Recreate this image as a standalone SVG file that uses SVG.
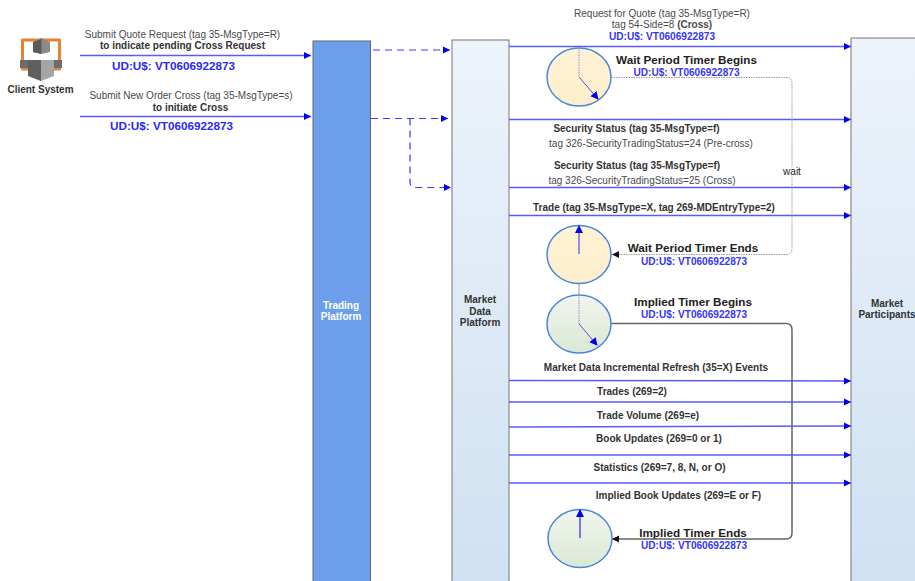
<svg xmlns="http://www.w3.org/2000/svg" width="915" height="581" viewBox="0 0 915 581">
<style>
text{font-family:"Liberation Sans",Arial,sans-serif;text-anchor:middle;fill:#333}
.m{font-size:10px;fill:#4a4a4a}
.b{font-size:10px;font-weight:bold;fill:#333}
.u{font-size:10.100px;font-weight:bold;fill:#3535f5}
.u2{font-size:11.700px;font-weight:bold;fill:#2a2af5}
.t{font-size:11.700px;font-weight:bold;fill:#222}
.a{stroke:#5a5af5;stroke-width:1.500;fill:none;marker-end:url(#ah)}
.d{stroke:#3a3af5;stroke-width:1.200;stroke-dasharray:7 5;fill:none;marker-end:url(#ah)}
.h{stroke:#5050e0;stroke-width:1;fill:none;marker-end:url(#ah2)}
.c{stroke:#4a86d8;stroke-width:1.500}
</style>
<defs>
<marker id="ah" markerUnits="userSpaceOnUse" markerWidth="8" markerHeight="8" refX="7" refY="4" orient="auto"><path d="M0 0.500L7 4L0 7.500Z" fill="#0000f0"/></marker>
<marker id="ah2" markerUnits="userSpaceOnUse" markerWidth="9" markerHeight="9" refX="7" refY="4.500" orient="auto"><path d="M0 0.500L8 4.500L0 8.500Z" fill="#0000f0"/></marker>
<marker id="ak" markerUnits="userSpaceOnUse" markerWidth="8" markerHeight="8" refX="7" refY="4" orient="auto"><path d="M0 0.500L7 4L0 7.500Z" fill="#111"/></marker>
<linearGradient id="bl" x1="0" y1="0" x2="0" y2="1"><stop offset="0" stop-color="#edf3fb"/><stop offset="1" stop-color="#cfe1f2"/></linearGradient>
<linearGradient id="or" x1="0" y1="0" x2="0" y2="1"><stop offset="0" stop-color="#fff3d6"/><stop offset="1" stop-color="#fdeecb"/></linearGradient>
<linearGradient id="gr" x1="0" y1="0" x2="0" y2="1"><stop offset="0" stop-color="#f1f5ee"/><stop offset="1" stop-color="#dae8d4"/></linearGradient>
</defs>

<g id="client-system">
<path d="M22.500 40H59.500V69H22.500Z" fill="#fff" stroke="#e8822f" stroke-width="3" stroke-linejoin="round"/>
<path d="M33 42L41.500 38L50 42V52L41.500 54L33 52Z" fill="#8a8a8a"/>
<path d="M33 42L41.500 39V54L33 52Z" fill="#5a5a5a"/>
<path d="M20 60H29V68H20ZM53 60H62V68H53Z" fill="#6b6b6b"/>
<path d="M28 60H41V81L28 76Z" fill="#5f5f5f"/>
<path d="M54 60H41V81L54 76Z" fill="#a5a5a5"/>
<text x="40.500" y="93" class="b" style="fill:#333">Client System</text>
</g>

<g id="trading-platform">
<rect x="313" y="41" width="57.500" height="545" fill="#6d9eeb" stroke="#666"/>
<text x="341" y="309" style="font-size:10px;font-weight:bold;fill:#fff">Trading</text>
<text x="341" y="320" style="font-size:10px;font-weight:bold;fill:#fff">Platform</text>
</g>

<g id="market-data-platform">
<rect x="452" y="40" width="57" height="546" fill="url(#bl)" stroke="#777"/>
<text x="480" y="303" class="b">Market</text>
<text x="480" y="315" class="b">Data</text>
<text x="480" y="326" class="b">Platform</text>
</g>

<g id="market-participants">
<rect x="851" y="38" width="70" height="548" fill="url(#bl)" stroke="#777"/>
<text x="887" y="307" class="b">Market</text>
<text x="887" y="318" class="b">Participants</text>
</g>

<g id="connectors">
<path class="a" d="M80 55.500H311"/>
<path class="a" d="M80 116.500H311"/>
<path class="d" d="M373 50H450"/>
<path class="d" d="M371 118.500H448"/>
<path class="d" d="M410 118.500V182Q410 187.500 416 187.500H451"/>
<path class="a" d="M509 46.500H851"/>
<path class="a" d="M509 119.500H851"/>
<path class="a" d="M509 187.500H851"/>
<path class="a" d="M509 215.500H851"/>
<path class="a" d="M509 380.500L851 381"/>
<path class="a" d="M509 402H851"/>
<path class="a" d="M509 427L851 426"/>
<path class="a" d="M509 455H851"/>
<path class="a" d="M509 483H851"/>
<path d="M611 77.500H786Q792 77.500 792 83V248Q792 254.500 786 254.500H612" fill="none" stroke="#999" stroke-width="1" stroke-dasharray="1.500 1" marker-end="url(#ak)"/>
<path d="M611 323.500H786Q792 323.500 792 330V533Q792 539 786 539H612" fill="none" stroke="#666" stroke-width="1.500" marker-end="url(#ak)"/>
<path d="M579 284V294" stroke="#999" stroke-width="1" fill="none"/>
</g>

<g id="timer-wait-begins">
<ellipse cx="579" cy="77" rx="32" ry="29" fill="url(#or)" class="c"/>
<path d="M579 47V77" stroke="#9a8ad0" stroke-width="1" stroke-dasharray="1.500 1" fill="none"/>
<path class="h" d="M579 77L598 99"/>
</g>
<g id="timer-wait-ends">
<ellipse cx="579" cy="254.500" rx="32" ry="29" fill="url(#or)" class="c"/>
<path class="h" style="stroke-width:1.200" d="M579 254V226"/>
</g>
<g id="timer-implied-begins">
<ellipse cx="579" cy="324" rx="32" ry="29" fill="url(#gr)" class="c"/>
<path d="M579 295V324" stroke="#9a8ad0" stroke-width="1" stroke-dasharray="1.500 1" fill="none"/>
<path class="h" d="M579 324L597 345"/>
</g>
<g id="timer-implied-ends">
<ellipse cx="580" cy="538.500" rx="32" ry="29" fill="url(#gr)" class="c"/>
<path class="h" style="stroke-width:1.500" d="M580 538V510"/>
</g>

<g id="labels">
<text x="182.500" y="38" class="m">Submit Quote Request (tag 35-MsgType=R)</text>
<text x="182.500" y="49" class="b">to indicate pending Cross Request</text>
<text x="173.500" y="70" class="u2">UD:U$: VT0606922873</text>
<text x="191" y="99" class="m">Submit New Order Cross (tag 35-MsgType=s)</text>
<text x="190.500" y="111" class="b">to initiate Cross</text>
<text x="171.500" y="130" class="u2">UD:U$: VT0606922873</text>
<text x="662" y="17" class="m">Request for Quote (tag 35-MsgType=R)</text>
<text x="662" y="28" class="m">tag 54-Side=8 <tspan font-weight="bold">(Cross)</tspan></text>
<text x="662" y="40" class="u">UD:U$: VT0606922873</text>
<text x="686.500" y="64" class="t">Wait Period Timer Begins</text>
<text x="686.500" y="76" class="u">UD:U$: VT0606922873</text>
<text x="636.500" y="132" class="b">Security Status (tag 35-MsgType=f)</text>
<text x="651" y="147" class="m">tag 326-SecurityTradingStatus=24 (Pre-cross)</text>
<text x="637" y="169" class="b">Security Status (tag 35-MsgType=f)</text>
<text x="642" y="184" class="m">tag 326-SecurityTradingStatus=25 (Cross)</text>
<text x="792" y="175" style="font-size:10px;fill:#222" stroke="#fff" stroke-width="3" paint-order="stroke">wait</text>
<text x="654" y="211" class="b">Trade (tag 35-MsgType=X, tag 269-MDEntryType=2)</text>
<text x="693" y="252" class="t">Wait Period Timer Ends</text>
<text x="694" y="265" class="u">UD:U$: VT0606922873</text>
<text x="693" y="306" class="t">Implied Timer Begins</text>
<text x="694" y="318" class="u">UD:U$: VT0606922873</text>
<text x="656" y="371" class="b">Market Data Incremental Refresh (35=X) Events</text>
<text x="632" y="395" class="b">Trades (269=2)</text>
<text x="648" y="419" class="b">Trade Volume (269=e)</text>
<text x="659" y="442" class="b">Book Updates (269=0 or 1)</text>
<text x="659.500" y="471" class="b">Statistics (269=7, 8, N, or O)</text>
<text x="678.500" y="499" class="b">Implied Book Updates (269=E or F)</text>
<text x="693" y="537" class="t">Implied Timer Ends</text>
<text x="694" y="549" class="u">UD:U$: VT0606922873</text>
</g>
</svg>
